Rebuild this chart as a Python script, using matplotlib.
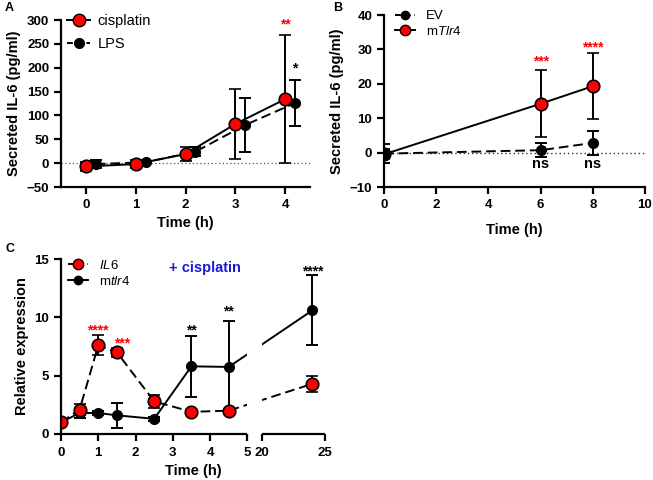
import numpy as np
import matplotlib.pyplot as plt
from matplotlib.lines import Line2D

plt.rcParams['font.family'] = ['Liberation Sans', 'DejaVu Sans']
plt.rcParams['font.weight'] = 'bold'
plt.rcParams['axes.labelweight'] = 'bold'
plt.rcParams['mathtext.fontset'] = 'custom'
plt.rcParams['mathtext.rm'] = 'Liberation Sans:weight=normal'
plt.rcParams['mathtext.it'] = 'Liberation Sans:style=italic:weight=normal'

RED = '#ff0000'
BLUE = '#1a1adb'

# panel A: secreted IL-6 after cisplatin / LPS
a_time = [0, 1, 2, 3, 4]
a_lps_time = [0.2, 1.2, 2.2, 3.2, 4.2]
a_cis = [-7, -2, 19, 82, 134]
a_cis_err = [10, 8, 14, 74, 134]
a_lps = [-2, 2, 24, 80, 126]
a_lps_err = [8, 2, 10, 57, 48]
a_stars = [(4, 290, '**', RED), (4.2, 198, '*', 'black')]

# panel B: EV vs mTlr4
b_time = [0, 6, 8]
b_ev = [-0.3, 0.7, 2.8]
b_ev_err = [2.7, 2.0, 3.5]
b_tlr = [-0.5, 14.2, 19.3]
b_tlr_err = [1.5, 9.8, 9.6]
b_stars = [(6, 26.5, '***', RED), (8, 30.6, '****', RED)]
b_ns = [(6, -3.3), (8, -3.3)]

# panel C: relative expression, + cisplatin
c_time = [0, 0.5, 1, 1.5, 2.5, 3.5, 4.5, 24]
c_il6 = [1.0, 2.1, 7.6, 7.0, 2.8, 1.9, 2.0, 4.3]
c_il6_err = [0.1, 0.5, 0.85, 0.4, 0.55, 0.15, 0.15, 0.7]
c_tlr = [1.0, 1.8, 1.8, 1.6, 1.3, 5.8, 5.75, 10.6]
c_tlr_err = [0.1, 0.45, 0.15, 1.1, 0.15, 2.6, 3.95, 3.0]
c_stars = [(1.0, 8.9, '****', RED), (1.65, 7.8, '***', RED),
           (3.5, 8.9, '**', 'black'), (4.5, 10.5, '**', 'black'),
           (24, 13.9, '****', 'black')]

fig = plt.figure(figsize=(6.53, 4.8), dpi=100)
W, H = 653, 480


def px_axes(l, t, r, b):
    return fig.add_axes([l / W, 1 - b / H, (r - l) / W, (b - t) / H])


def style(ax):
    for s in ['top', 'right']:
        ax.spines[s].set_visible(False)
    for s in ['left', 'bottom']:
        ax.spines[s].set_linewidth(1.6)
    ax.tick_params(direction='out', width=1.6, length=5, labelsize=9.5)
    for lab in ax.get_xticklabels() + ax.get_yticklabels():
        lab.set_fontweight('bold')


ekw = dict(elinewidth=1.4, capsize=4.5, capthick=1.4)
leg_prop = {'weight': 'normal', 'size': 9.5}

# ---- A ----
axA = px_axes(61, 20, 310, 187)
axA.axhline(0, color='#555555', lw=0.9, ls=(0, (1, 2)), zorder=1)
axA.errorbar(a_lps_time, a_lps, yerr=a_lps_err, color='black', ls=(0, (5, 2.5)),
             lw=1.4, marker='o', ms=7, mfc='black', mec='black', ecolor='black', **ekw)
axA.errorbar(a_time, a_cis, yerr=a_cis_err, color='black', ls='-', lw=1.4,
             marker='o', ms=9, mfc=RED, mec='black', mew=1.2, ecolor='black', **ekw)
for x, y, s, c in a_stars:
    axA.text(x, y, s, color=c, ha='center', va='center', fontsize=10, fontweight='bold')
axA.set_xlim(-0.5, 4.5)
axA.set_ylim(-50, 300)
axA.set_xticks(a_time)
axA.set_yticks(np.arange(-50, 301, 50))
axA.set_xlabel('Time (h)', fontsize=10.5)
axA.set_ylabel('Secreted IL-6 (pg/ml)', fontsize=10.5)
style(axA)
hA = [Line2D([], [], color='black', lw=1.4, marker='o', ms=9, mfc=RED, mec='black'),
      Line2D([], [], color='black', lw=1.4, ls=(0, (3, 2)), marker='o', ms=7, mfc='black')]
axA.legend(hA, ['cisplatin', 'LPS'], loc='upper left', frameon=False,
           handlelength=1.6, handletextpad=0.5, borderaxespad=0.0, labelspacing=0.6,
           bbox_to_anchor=(0.0, 1.07), prop={'weight': 'normal', 'size': 10.5})

# ---- B ----
axB = px_axes(384, 15, 645, 187)
axB.axhline(0, color='#333333', lw=1.0, ls=(0, (1, 2)), zorder=1)
axB.errorbar(b_time, b_tlr, yerr=b_tlr_err, color='black', ls='-', lw=1.4,
             marker='o', ms=9, mfc=RED, mec='black', mew=1.2, ecolor='black', **ekw)
axB.errorbar(b_time, b_ev, yerr=b_ev_err, color='black', ls=(0, (5, 2.5)),
             lw=1.4, marker='o', ms=7, mfc='black', mec='black', ecolor='black', **ekw)
for x, y, s, c in b_stars:
    axB.text(x, y, s, color=c, ha='center', va='center', fontsize=10, fontweight='bold')
for x, y in b_ns:
    axB.text(x, y, 'ns', color='black', ha='center', va='center', fontsize=10.5, fontweight='bold')
axB.set_xlim(0, 10)
axB.set_ylim(-10, 40)
axB.set_xticks([0, 2, 4, 6, 8, 10])
axB.set_yticks([-10, 0, 10, 20, 30, 40])
axB.set_xlabel('Time (h)', fontsize=10.5, labelpad=9)
axB.set_ylabel('Secreted IL-6 (pg/ml)', fontsize=10.5)
style(axB)
hB = [Line2D([], [], color='black', lw=1.4, ls=(0, (3, 2)), marker='o', ms=6, mfc='black'),
      Line2D([], [], color='black', lw=1.4, marker='o', ms=7.5, mfc=RED, mec='black')]
axB.legend(hB, ['EV', 'm$\\it{Tlr4}$'], loc='upper left', frameon=False,
           handlelength=1.5, borderaxespad=0.0, labelspacing=0.2,
           bbox_to_anchor=(0.023, 1.06), prop=leg_prop)

# ---- C (broken x axis) ----
K = 0.337
GAP = 0.4


def fwd(x):
    x = np.asarray(x, dtype=float)
    return np.where(x <= 5, x, np.where(x >= 20, 5 + GAP + (x - 20) * K,
                                        5 + (x - 5) * GAP / 15))


def inv(y):
    y = np.asarray(y, dtype=float)
    return np.where(y <= 5, y, np.where(y >= 5 + GAP, 20 + (y - 5 - GAP) / K,
                                        5 + (y - 5) * 15 / GAP))


axC = px_axes(61, 259, 325, 434)
axC.set_xscale('function', functions=(fwd, inv))
axC.errorbar(c_time, c_tlr, yerr=c_tlr_err, color='black', ls='-', lw=1.4,
             marker='o', ms=7, mfc='black', mec='black', ecolor='black', **ekw)
axC.errorbar(c_time, c_il6, yerr=c_il6_err, color='black', ls=(0, (5, 2.5)), lw=1.4,
             marker='o', ms=9, mfc=RED, mec='black', mew=1.2, ecolor='black', **ekw)
axC.axvspan(5, 20, color='white', zorder=2.6, lw=0)
for x, y, s, c in c_stars:
    axC.text(x, y, s, color=c, ha='center', va='center', fontsize=10, fontweight='bold')
axC.text(3.85, 14.2, '+ cisplatin', color=BLUE, ha='center', va='center',
         fontsize=10.5, fontweight='bold')
axC.set_xlim(0, 25)
axC.set_ylim(0, 15)
axC.set_xticks([0, 1, 2, 3, 4, 5, 20, 25])
axC.set_xticks([5, 20], minor=True)
axC.set_yticks([0, 5, 10, 15])
axC.set_xlabel('Time (h)', fontsize=10.5)
axC.set_ylabel('Relative expression', fontsize=10.5)
style(axC)
axC.spines['bottom'].set_bounds(0, 5)
axC.plot([20, 25], [0, 0], color='black', lw=1.6, clip_on=False, zorder=3,
         solid_capstyle='butt')
axC.tick_params(axis='x', which='minor', direction='inout', length=11, width=1.6)
axC.tick_params(axis='x', which='major', pad=4)
hC = [Line2D([], [], color='black', lw=1.4, ls=(0, (3, 2)), marker='o', ms=7.5, mfc=RED, mec='black'),
      Line2D([], [], color='black', lw=1.4, marker='o', ms=6, mfc='black')]
axC.legend(hC, ['$\\it{IL6}$', 'm$\\it{tlr4}$'], loc='upper left', frameon=False,
           handlelength=1.5, borderaxespad=0.0, labelspacing=0.2,
           bbox_to_anchor=(0.008, 1.03), prop=leg_prop)

# panel letters
fig.text(5 / W, 1 - 8 / H, 'A', fontsize=9, fontweight='bold', va='center')
fig.text(333 / W, 1 - 8 / H, 'B', fontsize=9, fontweight='bold', va='center')
fig.text(5 / W, 1 - 249 / H, 'C', fontsize=9, fontweight='bold', va='center')

fig.savefig('out.png', dpi=100)
